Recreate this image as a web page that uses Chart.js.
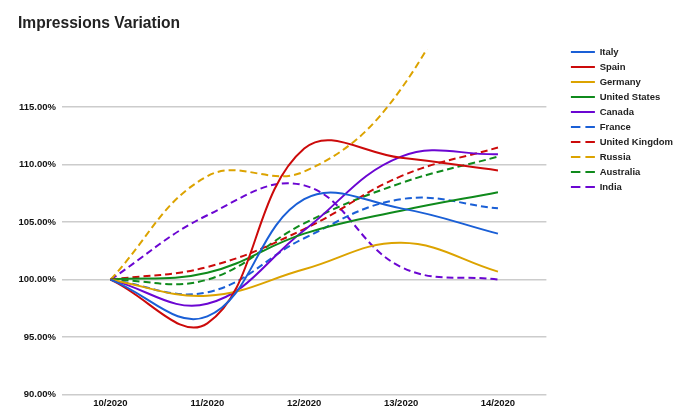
<!DOCTYPE html>
<html lang="en">
<head>
    <meta charset="UTF-8">
    <title>Impressions Variation</title>
    <script src="https://cdn.jsdelivr.net/npm/chart.js"></script>
    <style>
        html, body { margin: 0; padding: 0; background: #fff; }
        #grafico { width: 680px; height: 420px; }
    </style>
</head>
<body>
    <div id="grafico">
        <canvas id="grafico-info"></canvas>
    </div>
    <script>
        // weeks
        const semanas = ['10/2020', '11/2020', '12/2020', '13/2020', '14/2020'];

        // values in % of week 10
        const italy        = [100, 96.8, 107.0, 106.2, 104.0];
        const spain        = [100, 96.2, 111.4, 110.6, 109.5];
        const germany      = [100, 98.6, 100.9, 103.2, 100.7];
        const unitedStates = [100, 100.6, 104.0, 106.0, 107.6];
        const canada       = [100, 97.9, 104.3, 110.7, 110.9];
        const france       = [100, 98.9, 103.6, 107.0, 106.2];
        const unitedKingdom = [100, 101.1, 104.4, 109.0, 111.5];
        const russia       = [100, 109.0, 109.4, 116.6, 133.0];
        const australia    = [100, 100.0, 104.9, 108.4, 110.7];
        const india        = [100, 105.6, 108.2, 101.1, 100.0];

        const yTicks = [90, 95, 100, 105, 110, 115];

        const fonte = '"Liberation Sans", Arial, sans-serif';
        const tracejado = [7, 4];
        const tracejadoLegenda = [9.5, 5];

        function serie(nome, valores, cor, dash) {
            return {
                label: nome,
                data: valores,
                borderColor: cor,
                backgroundColor: cor,
                borderWidth: 2,
                borderDash: dash || [],
                pointRadius: 0,
                pointHoverRadius: 0,
                tension: 0.4,
                fill: false
            };
        }

        // legend sits a bit right of the plot and starts level with its top
        const ajusteLegenda = {
            id: 'ajusteLegenda',
            afterLayout(chart) {
                const lg = chart.legend;
                const dx = 19;
                const dy = (chart.chartArea.top - 8) - lg.top;
                lg.left += dx; lg.right += dx;
                lg.top += dy; lg.bottom += dy;
            }
        };

        function criarGrafico() {
            const ctx = document.getElementById('grafico-info').getContext('2d');
            const config = {
                type: 'line',
                data: {
                    labels: semanas,
                    datasets: [
                        serie('Italy', italy, '#1a5fd6'),
                        serie('Spain', spain, '#cc0a0a'),
                        serie('Germany', germany, '#dca300'),
                        serie('United States', unitedStates, '#0f8a1c'),
                        serie('Canada', canada, '#6b06d2'),
                        serie('France', france, '#1a5fd6', tracejado),
                        serie('United Kingdom', unitedKingdom, '#cc0a0a', tracejado),
                        serie('Russia', russia, '#dca300', tracejado),
                        serie('Australia', australia, '#0f8a1c', tracejado),
                        serie('India', india, '#6b06d2', tracejado)
                    ]
                },
                options: {
                    responsive: true,
                    maintainAspectRatio: false,
                    animation: false,
                    layout: { padding: { left: 18, right: 16, top: 8, bottom: 8 } },
                    plugins: {
                        title: {
                            display: true,
                            text: 'Impressions Variation',
                            align: 'start',
                            color: '#222',
                            font: { family: fonte, size: 15.6, weight: 'bold' },
                            padding: { top: 6, bottom: 17 }
                        },
                        legend: {
                            position: 'right',
                            align: 'start',
                            labels: {
                                usePointStyle: true,
                                pointStyle: 'line',
                                pointStyleWidth: 24,
                                padding: 5.5,
                                color: '#222',
                                font: { family: fonte, size: 9.5, weight: 'bold' },
                                generateLabels(chart) {
                                    const itens = Chart.defaults.plugins.legend.labels.generateLabels(chart);
                                    itens.forEach(it => {
                                        const ds = chart.data.datasets[it.datasetIndex];
                                        it.lineDash = ds.borderDash.length ? tracejadoLegenda : [];
                                    });
                                    return itens;
                                }
                            }
                        },
                        tooltip: { enabled: false }
                    },
                    scales: {
                        x: {
                            offset: true,
                            grid: { display: false, drawTicks: false },
                            border: { display: false },
                            ticks: {
                                padding: 3,
                                color: '#111',
                                maxRotation: 0,
                                font: { family: fonte, size: 9.5, weight: 'bold' }
                            }
                        },
                        y: {
                            min: 90,
                            max: 120,
                            afterBuildTicks(scale) {
                                scale.ticks = yTicks.map(v => ({ value: v }));
                            },
                            afterFit(scale) {
                                scale.width = 44;
                            },
                            grid: { color: '#cccccc', lineWidth: 1.5, drawTicks: false },
                            border: { display: false },
                            ticks: {
                                padding: 6,
                                color: '#111',
                                font: { family: fonte, size: 9.5, weight: 'bold' },
                                callback: v => v.toFixed(2) + '%'
                            }
                        }
                    }
                },
                plugins: [ajusteLegenda]
            };
            new Chart(ctx, config);
        }

        window.onload = function() {
            criarGrafico();
        };
    </script>
</body>
</html>
